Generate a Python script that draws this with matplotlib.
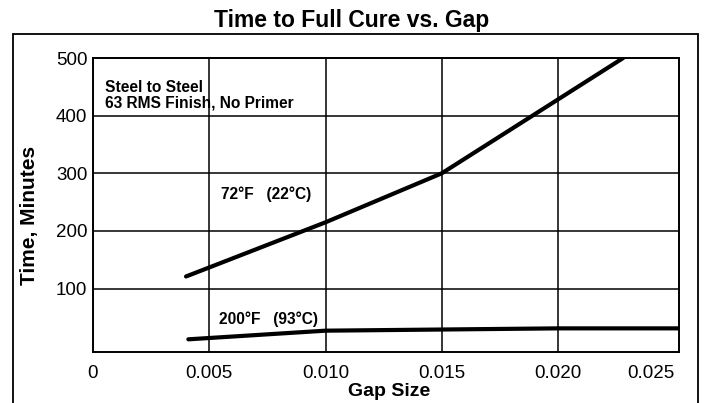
import matplotlib
matplotlib.use("Agg")
import matplotlib.pyplot as plt
from matplotlib.patches import Rectangle

plt.rcParams['font.family'] = ['Liberation Sans', 'DejaVu Sans']

# cure curves
gap_72f = [0.0040, 0.0100, 0.0120, 0.0150, 0.0189, 0.0228]
time_72f = [121, 215, 249, 300, 400, 500]
gap_200f = [0.0041, 0.0100, 0.0150, 0.0200, 0.0252]
time_200f = [12, 27, 29, 31, 31]

x_ticks = [0, 0.005, 0.010, 0.015, 0.020, 0.025]
x_labels = ['0', '0.005', '0.010', '0.015', '0.020', '0.025']
y_ticks = [100, 200, 300, 400, 500]

fig = plt.figure(figsize=(7.09, 4.03), dpi=100)
W, H = 709, 403
ax = fig.add_axes([93 / W, 1 - 352 / H, (679 - 93) / W, (352 - 58) / H])

# outer frame round everything
fig.patches.append(Rectangle((13 / W, -0.1), (698 - 13) / W, 1 - 34 / H + 0.1,
                             transform=fig.transFigure, fill=False,
                             edgecolor='black', linewidth=1.3))

ax.plot(gap_72f, time_72f, color='black', linewidth=3.0, solid_capstyle='round')
ax.plot(gap_200f, time_200f, color='black', linewidth=3.0, solid_capstyle='round')

ax.set_xlim(0, 0.0252)
ax.set_ylim(-10, 500)
ax.set_xticks(x_ticks)
ax.set_xticklabels(x_labels)
ax.set_yticks(y_ticks)
ax.tick_params(length=0, labelsize=13.5)
ax.tick_params(axis='x', pad=9)
ax.tick_params(axis='y', pad=4)
ax.xaxis.get_ticklabels()[-1].set_ha('right')
ax.grid(True, color='black', linewidth=1.1)
ax.get_xgridlines()[-1].set_visible(False)
for s in ax.spines.values():
    s.set_linewidth(1.4)

ax.text(0.0005, 461, 'Steel to Steel', fontsize=11.2, fontweight='bold', va='top')
ax.text(0.0005, 435, '63 RMS Finish, No Primer', fontsize=11.2,
        fontweight='bold', va='top')
ax.text(0.0055, 264, '72°F   (22°C)', fontsize=11.2, fontweight='bold',
        va='center')
ax.text(0.0054, 47, '200°F   (93°C)', fontsize=11.2, fontweight='bold',
        va='center')

fig.text(352 / W, 1 - 20 / H, 'Time to Full Cure vs. Gap',
         fontsize=16.5, fontweight='bold', ha='center', va='center')
fig.text(389 / W, 1 - 392 / H, 'Gap Size', fontsize=14, fontweight='bold',
         ha='center', va='center')
fig.text(29 / W, 1 - 215 / H, 'Time, Minutes', fontsize=15, fontweight='bold',
         ha='center', va='center', rotation=90)

fig.savefig('out.png', dpi=100)
